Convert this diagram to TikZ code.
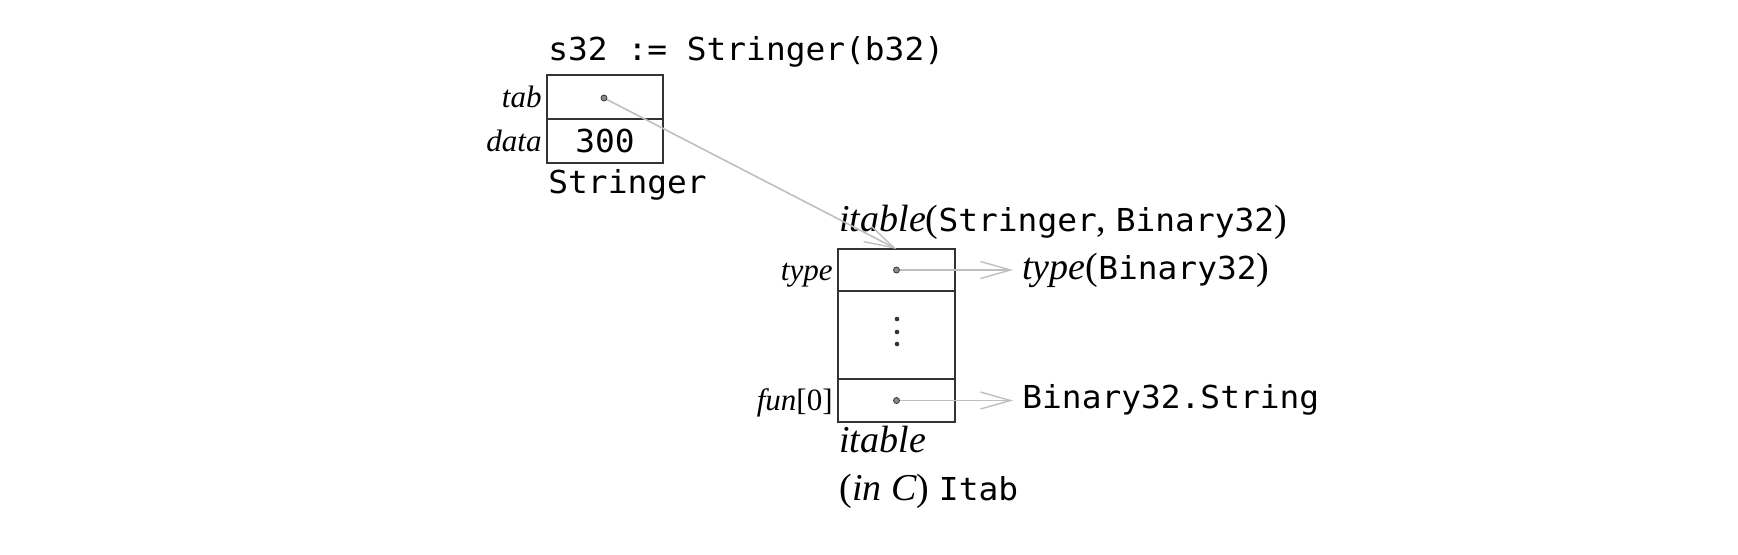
\documentclass[tikz,border=0pt]{standalone}
\usepackage{fontspec}
\setmainfont{Liberation Serif}
\setmonofont{DejaVu Sans Mono}[FakeStretch=1.04]
\usepackage{tikz}
\usetikzlibrary{arrows.meta}

\newcommand{\prog}[1]{{\fontsize{15.8}{18}\selectfont\ttfamily #1}}
\newcommand{\fld}[1]{{\fontsize{15.5}{18}\selectfont\itshape #1}}

\begin{document}
\begin{tikzpicture}[x=0.5pt,y=-0.5pt,
  cell/.style={draw=black!80,line width=0.75pt,inner sep=0pt,outer sep=0pt,minimum width=58pt},
  ptr/.style={circle,draw=black!80,fill=black!45,line width=0.4pt,inner sep=0pt,minimum size=3pt},
  ref/.style={draw=black!25,line width=0.8pt,-{Straight Barb[length=15pt,width=8.5pt,line width=0.7pt]}},
  lbl/.style={inner sep=2.5pt,text height=11pt,text depth=1pt},
  txt/.style={anchor=base west,inner sep=0pt,font=\fontsize{19}{22}\selectfont}]
 % \draw[thin,gray!30] (0,0) grid[step=100] (1738,554);
  \useasboundingbox (0,0) rectangle (1738,554);
  % Stringer value
  \node[txt] (assign) at (548,60) {\prog{s32 := Stringer(b32)}};
  \node[cell,minimum height=22pt] (tabcell) at (605,97) {};
  \node[cell,minimum height=22pt] (datacell) at (605,141) {\prog{300}};
  \node[lbl,anchor=east] (tablbl) at (tabcell.west) {\fld{tab}};
  \node[lbl,anchor=east] (datalbl) at (datacell.west) {\fld{data}};
  \node[txt] (strname) at (548,193) {\prog{Stringer}};
  \node[ptr] (sdot) at (604,98) {};
  % itable
  \node[txt] (ittitle) at (839,231) {\textit{itable}(\prog{Stringer}, \prog{Binary32})};
  \node[cell,minimum width=58.5pt,minimum height=21pt] (typecell) at (896.5,270) {};
  \node[cell,minimum width=58.5pt,minimum height=44pt] (dotscell) at (896.5,335) {};
  \node[cell,minimum width=58.5pt,minimum height=21.5pt] (funcell) at (896.5,400.5) {};
  \node[lbl,anchor=east] (typelbl) at (typecell.west) {\fld{type}};
  \node[lbl,anchor=east] (funlbl) at (funcell.west) {\fld{fun}{\fontsize{15.5}{18}\selectfont[0]}};
  \node[ptr] (tdot) at (typecell) {};
  \node[ptr] (fdot) at (funcell) {};
  \foreach \y in {319,332,344} \fill[black!80] (897,\y) circle (1.15pt);
  \node[txt] (itname) at (839,452) {\textit{itable}};
  \node[txt] (itc) at (839,500) {(\textit{in C}) \prog{Itab}};
  % targets
  \node[anchor=west,inner sep=4.5pt,font=\fontsize{19}{22}\selectfont] (typeto) at (1013,270) {\textit{type}(\prog{Binary32})};
  \node[anchor=west,inner sep=4.5pt] (funto) at (1013,400) {\prog{Binary32.String}};
  \draw[ref] (sdot) -- (typecell.north);
  \draw[ref] (tdot) -- (tdot -| typeto.west);
  \draw[ref] (fdot) -- (fdot -| funto.west);
\end{tikzpicture}
\end{document}
